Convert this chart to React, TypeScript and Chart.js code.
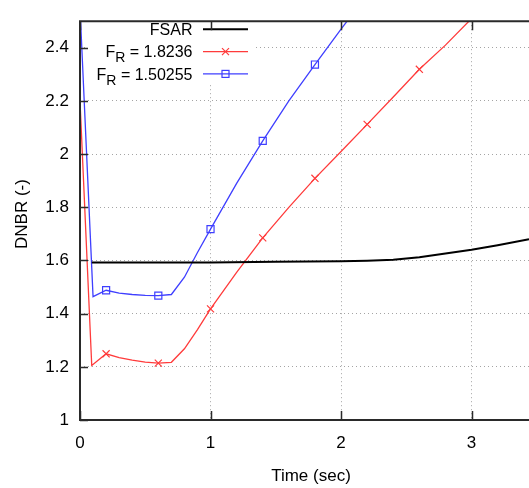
import React, { useEffect, useRef } from 'react';
import { Chart, registerables } from 'chart.js';

Chart.register(...registerables);

// ---- data ----
const fsarX = [0.09, 0.5, 1.0, 1.5, 2.0, 2.2, 2.4, 2.6, 2.8, 3.0, 3.2, 3.44];
const fsarY = [1.592, 1.592, 1.592, 1.595, 1.597, 1.599, 1.603, 1.612, 1.626, 1.64, 1.657, 1.68];

const redX = [0, 0.09, 0.2, 0.3, 0.4, 0.5, 0.6, 0.7, 0.8, 0.9, 1.0, 1.2, 1.4, 1.6, 1.8, 2.0, 2.2, 2.4, 2.6, 2.8, 3.0];
const redY = [2.2, 1.205, 1.249, 1.235, 1.225, 1.218, 1.214, 1.217, 1.268, 1.34, 1.418, 1.555, 1.685, 1.8, 1.909, 2.01, 2.112, 2.215, 2.319, 2.41, 2.51];
const redMarkers = [0.2, 0.6, 1.0, 1.4, 1.8, 2.2, 2.6];

const blueX = [0, 0.1, 0.2, 0.3, 0.4, 0.5, 0.6, 0.7, 0.8, 0.9, 1.0, 1.2, 1.4, 1.6, 1.8, 2.0, 2.2];
const blueY = [2.55, 1.464, 1.488, 1.477, 1.472, 1.469, 1.468, 1.472, 1.537, 1.63, 1.718, 1.89, 2.05, 2.2, 2.337, 2.47, 2.6];
const blueMarkers = [0.2, 0.6, 1.0, 1.4, 1.8];

const xTicks = [0, 1, 2, 3];
const yTicks = [1, 1.2, 1.4, 1.6, 1.8, 2, 2.2, 2.4];

const legendValues = ['1.8236', '1.50255'];

const FONT = "'Liberation Sans', Arial, sans-serif";
const RED = '#ff3b3b';
const BLUE = '#3f3fff';

const toPts = (xs: number[], ys: number[]) => xs.map((x, i) => ({ x, y: ys[i] }));

export default function App() {
  const ref = useRef<HTMLCanvasElement | null>(null);

  useEffect(() => {
    const canvas = ref.current;
    if (!canvas) return;

    const framePlugin = {
      id: 'frame',
      beforeDatasetsDraw(chart: any) {
        const ctx = chart.ctx;
        ctx.save();
        ctx.fillStyle = '#ffffff';
        ctx.fillRect(86, 17, 170, 68);
        const xr = 192.5;
        const rows = [
          { parts: [{ t: 'FSAR', s: 16, dy: 0 }], color: '#000', marker: 'none' },
          { parts: [{ t: 'F', s: 16, dy: 0 }, { t: 'R', s: 14, dy: 5 }, { t: ' = ' + legendValues[0], s: 16, dy: 0 }], color: RED, marker: 'x' },
          { parts: [{ t: 'F', s: 16, dy: 0 }, { t: 'R', s: 14, dy: 5 }, { t: ' = ' + legendValues[1], s: 16, dy: 0 }], color: BLUE, marker: 'sq' },
        ];
        rows.forEach((r, i) => {
          const cy = 29.3 + i * 22.3;
          const base = cy + 5.8;
          let total = 0;
          r.parts.forEach((p) => {
            ctx.font = `${p.s}px ${FONT}`;
            total += ctx.measureText(p.t).width;
          });
          let x = xr - total;
          ctx.fillStyle = '#000';
          ctx.textBaseline = 'alphabetic';
          ctx.textAlign = 'left';
          r.parts.forEach((p) => {
            ctx.font = `${p.s}px ${FONT}`;
            ctx.fillText(p.t, x, base + p.dy);
            x += ctx.measureText(p.t).width;
          });
          ctx.strokeStyle = r.color;
          ctx.lineWidth = i === 0 ? 2 : 1.3;
          ctx.beginPath();
          ctx.moveTo(203, cy);
          ctx.lineTo(248, cy);
          ctx.stroke();
          const mx = 225.5;
          ctx.lineWidth = 1.2;
          if (r.marker === 'x') {
            ctx.beginPath();
            ctx.moveTo(mx - 3.5, cy - 3.5);
            ctx.lineTo(mx + 3.5, cy + 3.5);
            ctx.moveTo(mx + 3.5, cy - 3.5);
            ctx.lineTo(mx - 3.5, cy + 3.5);
            ctx.stroke();
          } else if (r.marker === 'sq') {
            ctx.strokeRect(mx - 3.5, cy - 3.5, 7, 7);
          }
        });
        ctx.restore();
      },
      afterDraw(chart: any) {
        const ctx = chart.ctx;
        const ca = chart.chartArea;
        const xs = chart.scales.x;
        const ys = chart.scales.y;
        ctx.save();
        ctx.strokeStyle = '#2a2a2a';
        ctx.lineWidth = 2;
        ctx.beginPath();
        ctx.moveTo(ca.right + 2, ca.top);
        ctx.lineTo(ca.left, ca.top);
        ctx.lineTo(ca.left, ca.bottom);
        ctx.lineTo(ca.right + 2, ca.bottom);
        ctx.stroke();
        ctx.lineWidth = 1.5;
        ctx.beginPath();
        xTicks.forEach((v) => {
          const px = Math.round(xs.getPixelForValue(v)) + 0.5;
          ctx.moveTo(px, ca.bottom);
          ctx.lineTo(px, ca.bottom - 9);
          ctx.moveTo(px, ca.top);
          ctx.lineTo(px, ca.top + 9);
        });
        yTicks.forEach((v) => {
          const py = Math.round(ys.getPixelForValue(v)) + 0.5;
          ctx.moveTo(ca.left, py);
          ctx.lineTo(ca.left + 8, py);
        });
        ctx.stroke();
        // axis titles
        ctx.fillStyle = '#000';
        ctx.font = `17px ${FONT}`;
        ctx.textAlign = 'center';
        ctx.textBaseline = 'middle';
        ctx.fillText('Time (sec)', 311, 476);
        ctx.translate(22.5, 214);
        ctx.rotate(-Math.PI / 2);
        ctx.fillText('DNBR (-)', 0, 0);
        ctx.restore();
      },
    };

    const markerRadius = (list: number[], r: number) => (c: any) =>
      c.raw && list.includes(c.raw.x) ? r : 0;

    const chart = new Chart(canvas, {
      type: 'line',
      data: {
        datasets: [
          {
            label: 'FSAR',
            data: toPts(fsarX, fsarY),
            borderColor: '#000',
            borderWidth: 2,
            pointRadius: 0,
            tension: 0,
          },
          {
            label: 'FR = 1.8236',
            data: toPts(redX, redY),
            borderColor: RED,
            borderWidth: 1.3,
            pointStyle: 'crossRot',
            pointRadius: markerRadius(redMarkers, 5),
            pointBorderColor: RED,
            pointBorderWidth: 1.2,
            pointBackgroundColor: 'transparent',
            tension: 0,
          },
          {
            label: 'FR = 1.50255',
            data: toPts(blueX, blueY),
            borderColor: BLUE,
            borderWidth: 1.3,
            pointStyle: 'rect',
            pointRadius: markerRadius(blueMarkers, 5),
            pointBorderColor: BLUE,
            pointBorderWidth: 1.2,
            pointBackgroundColor: 'transparent',
            tension: 0,
          },
        ],
      },
      options: {
        animation: false,
        responsive: false,
        maintainAspectRatio: false,
        layout: { padding: { top: 10, left: 0, right: 0, bottom: 0 } },
        plugins: {
          legend: { display: false },
          tooltip: { enabled: false },
        },
        scales: {
          x: {
            type: 'linear',
            min: 0,
            max: 3.44,
            afterFit: (s: any) => {
              s.height = 68;
            },
            afterBuildTicks: (s: any) => {
              s.ticks = xTicks.map((v) => ({ value: v }));
            },
            ticks: {
              font: { family: FONT, size: 17 },
              color: '#000',
              padding: 13,
              maxRotation: 0,
              callback: (v: any) => String(v),
            },
            grid: {
              color: '#a4a4a4',
              lineWidth: 1,
              drawTicks: false,
            },
            border: { display: false, dash: [1, 3] },
          },
          y: {
            type: 'linear',
            min: 1,
            max: 2.5,
            afterFit: (s: any) => {
              s.width = 80;
            },
            afterBuildTicks: (s: any) => {
              s.ticks = yTicks.map((v) => ({ value: v }));
            },
            ticks: {
              font: { family: FONT, size: 17 },
              color: '#000',
              padding: 11,
              callback: (v: any) => String(+Number(v).toFixed(1)),
            },
            grid: {
              color: '#a4a4a4',
              lineWidth: 1,
              drawTicks: false,
            },
            border: { display: false, dash: [1, 3] },
          },
        },
      },
      plugins: [framePlugin],
    });

    return () => chart.destroy();
  }, []);

  return (
    <div style={{ position: 'fixed', left: 0, top: 0, width: 529, height: 488, background: '#fff' }}>
      <canvas ref={ref} width={529} height={488} style={{ display: 'block', width: 529, height: 488 }} />
    </div>
  );
}
